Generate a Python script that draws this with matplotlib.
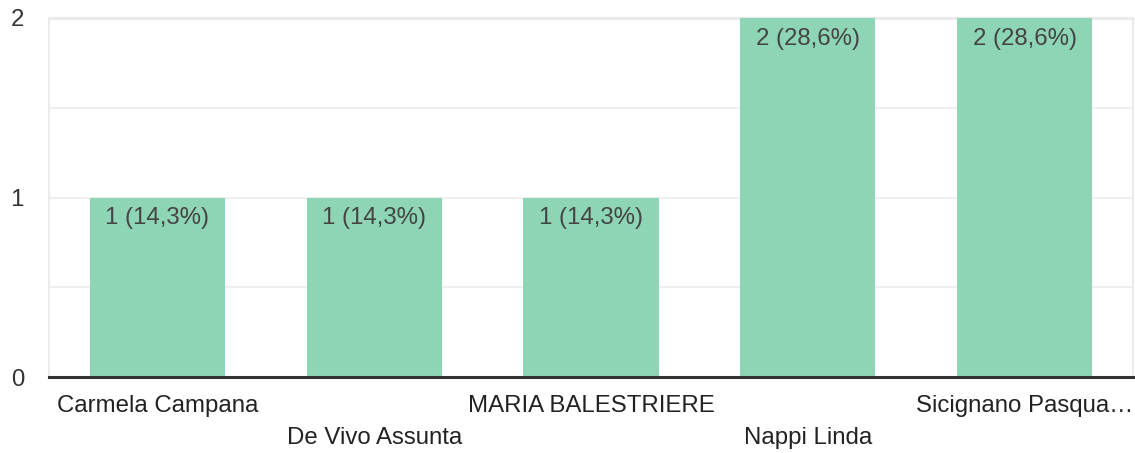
import matplotlib
matplotlib.use("Agg")
import matplotlib.pyplot as plt
from matplotlib.transforms import blended_transform_factory

categories = ["Carmela Campana", "De Vivo Assunta", "MARIA BALESTRIERE", "Nappi Linda", "Sicignano Pasqua…"]
values = [1, 1, 1, 2, 2]
bar_labels = ["1 (14,3%)", "1 (14,3%)", "1 (14,3%)", "2 (28,6%)", "2 (28,6%)"]
y_ticks = [0, 1, 2]

plt.rcParams['font.family'] = ['Liberation Sans', 'DejaVu Sans']
FS = 17.3

W, H = 1135, 453
fig = plt.figure(figsize=(W / 100, H / 100), dpi=100)
left, right, top, bottom = 49, 1133, 18, 377
ax = fig.add_axes([left / W, (H - bottom) / H, (right - left) / W, (bottom - top) / H])

x = list(range(len(categories)))
ax.bar(x, values, width=0.623, color="#8ed5b5", zorder=2)
ax.set_xlim(-0.5, len(categories) - 0.5)
ax.set_ylim(0, 2)

# gridlines
for yv in [0.5, 1.0, 1.5]:
    ax.axhline(yv, color="#efefef", lw=1.4, zorder=1)
ax.axhline(2.0, color="#ebebeb", lw=2.2, zorder=1, clip_on=False)
ax.axhline(0, color="#333333", lw=2.2, zorder=3, clip_on=False)

for s in ["top", "bottom"]:
    ax.spines[s].set_visible(False)
for s in ["left", "right"]:
    ax.spines[s].set_color("#ebebeb")
    ax.spines[s].set_linewidth(1.5)

ax.set_yticks(y_ticks)
ax.set_yticklabels([str(v) for v in y_ticks], fontsize=FS, color="#333333")
ax.tick_params(axis="y", length=0, pad=18)
ax.set_xticks([])

for xi, v, lab in zip(x, values, bar_labels):
    ax.annotate(lab, (xi, v), xytext=(0, -7), textcoords="offset points",
                ha="center", va="top", fontsize=FS, color="#444444", zorder=4)

trans = blended_transform_factory(ax.transData, ax.transAxes)
for i, c in enumerate(categories):
    ypix = 406 if i % 2 == 0 else 438
    yax = (bottom - ypix) / (bottom - top)
    ax.text(i, yax, c, transform=trans, ha="center", va="center", fontsize=FS, color="#222222")

fig.savefig("out.png", dpi=100)
